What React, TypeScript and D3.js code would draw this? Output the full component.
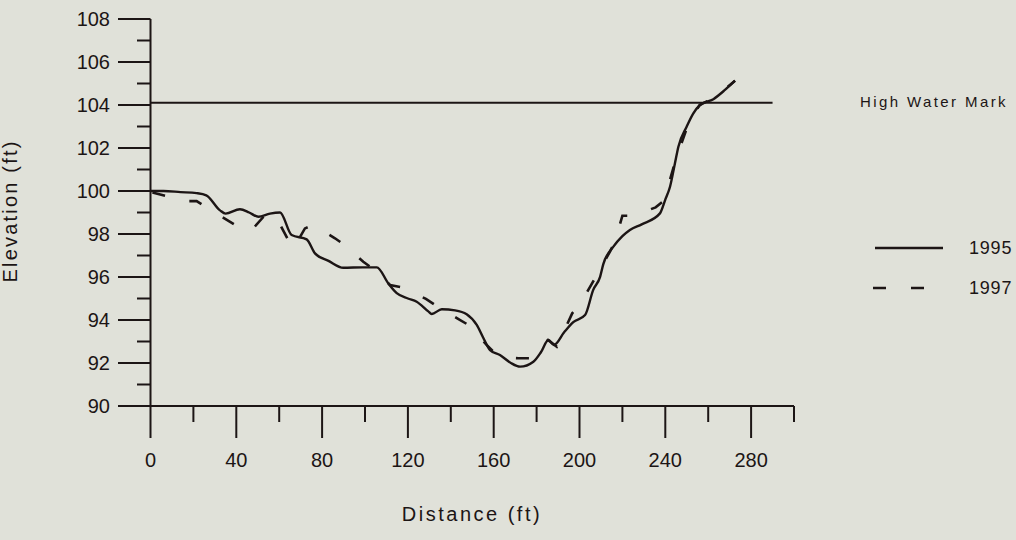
import React from "react";
import * as d3 from "d3";

// Cross-section survey: distance along the transect (ft) vs. bed elevation (ft)
const distance1995 = [
  0, 6, 14, 21.5, 26, 32.4, 35, 41.7, 46, 50.3, 55.7, 60.4, 65.8, 72.8, 76.7, 83,
  89.9, 99, 105.5, 110.9, 114.8, 120, 124.1, 129.5, 131.1, 135.8, 142, 147.4, 152.1,
  155, 158.3, 162.9, 168, 172.3, 178.5, 182, 185.5, 188.1, 193, 197.1, 202.6, 206.4,
  209.6, 211.1, 215.8, 220, 223.5, 229, 237.5, 240, 242.2, 244.5, 246.1, 250, 253,
  256.2, 262.4, 267.8, 272.5,
];
const elevation1995 = [
  100.0, 100.0, 99.95, 99.9, 99.8, 99.1, 98.95, 99.15, 99.0, 98.8, 98.95, 99.0, 97.95,
  97.75, 97.1, 96.75, 96.43, 96.45, 96.45, 95.7, 95.25, 95.0, 94.85, 94.4, 94.28, 94.5,
  94.45, 94.27, 93.77, 93.2, 92.6, 92.37, 92.0, 91.83, 92.06, 92.5, 93.07, 92.84, 93.45,
  93.9, 94.23, 95.4, 96.01, 96.6, 97.41, 97.9, 98.19, 98.45, 98.96, 99.6, 100.2, 101.29,
  102.06, 103.0, 103.6, 104.0, 104.27, 104.7, 105.13,
];

const distance1997 = [
  0, 10, 16, 21.5, 30, 44.8, 47.9, 54, 59, 64.2, 66.6, 72, 75.9, 86, 89.9, 99.2, 102.3,
  111.7, 117.1, 122, 128.4, 132.6, 143, 148.2, 156.7, 159.8, 165, 171.5, 176.9, 185.3,
  189.4, 196.6, 199.8, 207, 214.2, 216.5, 220, 225.4, 235.5, 239.4, 245, 251, 256, 262,
  268, 272.5,
];
const elevation1997 = [
  99.95, 99.7, 99.53, 99.53, 99.0, 98.1, 98.26, 98.95, 98.7, 97.72, 97.33, 98.26, 98.42,
  97.8, 97.53, 96.71, 96.48, 95.63, 95.52, 95.3, 94.98, 94.7, 94.08, 93.77, 92.84, 92.53,
  92.25, 92.22, 92.22, 93.07, 92.76, 94.31, 94.65, 95.9, 97.18, 97.64, 98.85, 98.85,
  99.24, 99.55, 101.5, 103.2, 104.0, 104.3, 104.75, 105.13,
];

const highWaterMark = 104.1;
const highWaterExtent = [0, 290];

const xMajorTicks = [0, 40, 80, 120, 160, 200, 240, 280];
const xMinorTicks = [20, 60, 100, 140, 180, 220, 260, 300];
const yMajorTicks = [90, 92, 94, 96, 98, 100, 102, 104, 106, 108];
const yMinorTicks = [91, 93, 95, 97, 99, 101, 103, 105, 107];

const legendLabels = ["1995", "1997"];
const highWaterLabel = "High Water Mark";
const xTitle = "Distance (ft)";
const yTitle = "Elevation (ft)";

const W = 1016;
const H = 540;
const INK = "#1c1515";
const BG = "#e0e1d9";
const FONT = "'Liberation Sans', Arial, Helvetica, sans-serif";

export default function App() {
  const x = d3.scaleLinear().domain([0, 300]).range([150.5, 794]);
  const y = d3.scaleLinear().domain([90, 108]).range([406, 19]);

  const s1995 = distance1995.map((d, i) => [d, elevation1995[i]] as [number, number]);
  const s1997 = distance1997.map((d, i) => [d, elevation1997[i]] as [number, number]);

  const smooth = d3
    .line<[number, number]>()
    .x((p) => x(p[0]))
    .y((p) => y(p[1]))
    .curve(d3.curveMonotoneX);
  const straight = d3
    .line<[number, number]>()
    .x((p) => x(p[0]))
    .y((p) => y(p[1]));

  const x0 = x(0);
  const y0 = y(90);

  return (
    <svg
      width={W}
      height={H}
      style={{ position: "absolute", left: 0, top: 0, display: "block", background: BG }}
      fontFamily={FONT}
    >
      <rect x={0} y={0} width={W} height={H} fill={BG} />

      {/* axes */}
      <line x1={x0} y1={y(108)} x2={x0} y2={y0} stroke={INK} strokeWidth={2} />
      <line x1={x0} y1={y0} x2={x(300)} y2={y0} stroke={INK} strokeWidth={2} />

      {/* y ticks */}
      {yMajorTicks.map((t) => (
        <g key={"ym" + t}>
          <line x1={118} x2={x0} y1={y(t)} y2={y(t)} stroke={INK} strokeWidth={2} />
          <text
            x={110}
            y={y(t)}
            textAnchor="end"
            dominantBaseline="central"
            fontSize={20}
            fill={INK}
          >
            {t}
          </text>
        </g>
      ))}
      {yMinorTicks.map((t) => (
        <line key={"yn" + t} x1={137} x2={x0} y1={y(t)} y2={y(t)} stroke={INK} strokeWidth={2} />
      ))}

      {/* x ticks */}
      {xMajorTicks.map((t) => (
        <g key={"xm" + t}>
          <line x1={x(t)} x2={x(t)} y1={y0} y2={y0 + 32} stroke={INK} strokeWidth={2} />
          <text x={x(t)} y={467} textAnchor="middle" fontSize={20} fill={INK}>
            {t}
          </text>
        </g>
      ))}
      {xMinorTicks.map((t) => (
        <line key={"xn" + t} x1={x(t)} x2={x(t)} y1={y0} y2={y0 + 16} stroke={INK} strokeWidth={2} />
      ))}

      {/* high water mark */}
      <line
        x1={x(highWaterExtent[0])}
        x2={x(highWaterExtent[1])}
        y1={y(highWaterMark)}
        y2={y(highWaterMark)}
        stroke={INK}
        strokeWidth={2}
      />
      <text x={860} y={107} fontSize={15} letterSpacing={2.4} fill={INK}>
        {highWaterLabel}
      </text>

      {/* profiles */}
      <path
        d={straight(s1997) ?? ""}
        fill="none"
        stroke={INK}
        strokeWidth={2.6}
        strokeDasharray="13 25"
        strokeDashoffset={-40}
      />
      <path d={smooth(s1995) ?? ""} fill="none" stroke={INK} strokeWidth={2.4} strokeLinejoin="round" />

      {/* legend */}
      <line x1={875} x2={943} y1={248} y2={248} stroke={INK} strokeWidth={2.4} />
      <line x1={873} x2={925} y1={288} y2={288} stroke={INK} strokeWidth={2.6} strokeDasharray="13 25" />
      <text x={969} y={248} dominantBaseline="central" fontSize={18} letterSpacing={0.8} fill={INK}>
        {legendLabels[0]}
      </text>
      <text x={969} y={288} dominantBaseline="central" fontSize={18} letterSpacing={0.8} fill={INK}>
        {legendLabels[1]}
      </text>

      {/* axis titles */}
      <text x={472} y={521} textAnchor="middle" fontSize={20} letterSpacing={2.5} fill={INK}>
        {xTitle}
      </text>
      <text
        transform="translate(17,211) rotate(-90)"
        textAnchor="middle"
        fontSize={20}
        letterSpacing={2.2}
        fill={INK}
      >
        {yTitle}
      </text>
    </svg>
  );
}
